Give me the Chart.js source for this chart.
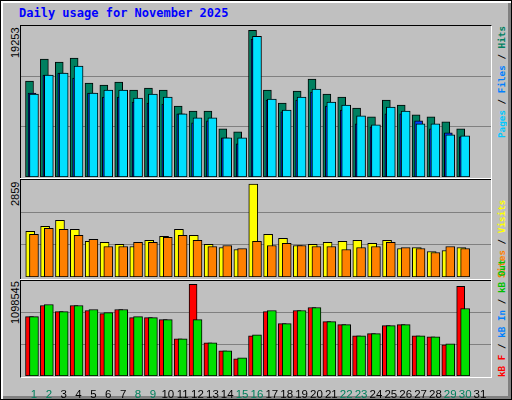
<!DOCTYPE html>
<html><head><meta charset="utf-8">
<script src="https://cdn.jsdelivr.net/npm/chart.js@4"></script>
<style>
html,body{margin:0;padding:0;width:512px;height:400px;overflow:hidden;background:#c0c0c0}
#outer{position:absolute;left:0;top:0;width:510px;height:398px;border:1px solid #000;box-shadow:inset 2px 2px 0 #fff,inset -3px -3px 0 #808080;background:#c0c0c0}
.t{position:absolute;font-family:"DejaVu Sans Mono",monospace;font-weight:bold;font-size:12px;color:#0000ff}
.v{position:absolute;writing-mode:vertical-rl;transform:rotate(180deg);white-space:nowrap;font-family:"Liberation Sans",sans-serif;font-size:11px}
.lg{font-family:"DejaVu Sans Mono",monospace;font-size:9.3px;font-weight:bold}
canvas{position:absolute}
.line{position:absolute;height:1px}
</style></head><body>
<div id="outer"></div>
<div class="t" style="left:19px;top:6px">Daily usage for November 2025</div>
<div id="frame" style="position:absolute;left:20px;top:25px;width:470px;height:351px;border-left:1px solid #000;border-top:1px solid #000;border-right:1px solid #fff;border-bottom:1px solid #fff"></div>
<div class="line" style="left:20px;top:178px;width:471px;background:#fff"></div>
<div class="line" style="left:20px;top:179px;width:471px;background:#000"></div>
<div class="line" style="left:20px;top:279px;width:471px;background:#fff"></div>
<div class="line" style="left:20px;top:280px;width:471px;background:#000"></div>
<div class="v" style="left:9px;top:27px;height:31px">19253</div>
<div class="v" style="left:9px;top:181px;height:25px">2859</div>
<div class="v" style="left:9px;top:284px;height:40px">1098545</div>
<div class="v lg" style="left:496px;top:27px;height:111px"><span style="color:#00c8ff">Pages</span> / <span style="color:#0080ff">Files</span> / <span style="color:#008060">Hits</span></div>
<div class="v lg" style="left:496px;top:178px;height:100px"><span style="color:#ff8000">Sites</span> / <span style="color:#ffff00">Visits</span></div>
<div class="v lg" style="left:496px;top:283px;height:94px"><span style="color:#ff0000">kB F</span> / <span style="color:#0080ff">kB In</span> / <span style="color:#00c000">kB Out</span></div>
<canvas id="c1" style="left:21px;top:26px;width:470px;height:151px"></canvas>
<canvas id="c2" style="left:21px;top:180px;width:470px;height:97px"></canvas>
<canvas id="c3" style="left:21px;top:281px;width:470px;height:117px"></canvas>
<script>
const days=[1,2,3,4,5,6,7,8,9,10,11,12,13,14,15,16,17,18,19,20,21,22,23,24,25,26,27,28,29,30,31];
const weekend=[1,2,8,9,15,16,22,23,29,30];
const hits=[12589,15464,15072,15594,12327,12066,12458,11413,11674,11413,9322,8668,8668,6316,5924,19253,11413,9714,11282,12850,10890,10498,9060,7884,10106,9453,8146,7884,7231,6316,0];
const files=[11021,13373,13634,12981,11021,10498,10498,9845,9714,9583,8276,7100,7362,5140,4356,18077,10106,8538,10106,11151,9322,8799,6970,6578,8276,8276,7362,6316,5793,5271,0];
const pages=[10890,13373,13634,14549,11021,11413,11413,10367,10890,10498,8276,7754,7754,5140,5140,18469,10237,8799,10498,11543,9845,9453,8015,6839,9191,8668,6970,6970,5532,5401,0];
const visits=[1404,1558,1744,1465,1094,1063,1001,939,1125,1249,1465,1280,1001,908,846,2859,1311,1187,970,1001,1063,1094,1125,1032,1125,877,908,784,815,908,0];
const sites=[1311,1496,1465,1280,1156,939,939,1063,1063,1218,1280,1125,939,970,877,1094,970,1032,970,939,939,846,908,939,1063,908,877,753,939,877,0];
const kbF=[712248,845040,772608,845040,784680,748464,796752,700176,700176,676032,446664,1098545,398376,301800,205224,482880,772608,627744,784680,820896,651888,615672,482880,507024,603600,615672,482880,470808,374232,1074408,0];
const kbIn=[3000,3000,3000,3000,3000,3000,3000,3000,3000,3000,3000,3000,3000,3000,3000,3000,3000,3000,3000,3000,3000,3000,3000,3000,3000,3000,3000,3000,3000,3000,0];
const kbOut=[712248,857112,772608,845040,796752,760536,796752,712248,700176,676032,446664,676032,398376,301800,217296,494952,784680,627744,784680,820896,651888,615672,482880,507024,603600,615672,482880,470808,386304,808824,0];
const maxes=[19820,2983,1138800];

function ds(vals,off,color,w,order){
  return {data:days.map((d,i)=>({x:d+off,y:vals[i]})),backgroundColor:color,borderColor:'#000',borderWidth:1,borderSkipped:false,barThickness:w,grouped:false,order:order};
}
function mk(id,datasets,max,showX){
  new Chart(document.getElementById(id),{type:'bar',data:{datasets},
    options:{responsive:false,animation:false,devicePixelRatio:1,
      layout:{padding:0},
      plugins:{legend:{display:false},tooltip:{enabled:false}},
      scales:{
        x:{type:'linear',min:0.128,max:31.74,display:showX,offset:false,
          grid:{display:false,offset:false},border:{display:false},
          afterBuildTicks:s=>{s.ticks=days.map(d=>({value:d}));},
          afterFit:s=>{if(showX)s.height=22;},
          ticks:{autoSkip:false,maxRotation:0,padding:4,
            font:{family:'Liberation Sans',size:11.5},
            color:c=>weekend.includes(c.tick.value)?'#00805c':'#000',
            callback:v=>String(v)}},
        y:{min:0,max:max,
          afterBuildTicks:s=>{s.ticks=[{value:max/3},{value:2*max/3}];},
          afterFit:s=>{s.width=0;},
          ticks:{display:false},
          grid:{color:'#808080',lineWidth:1,drawTicks:false},
          border:{display:false}}
      }}});
}
function size(id,w,h){const c=document.getElementById(id);c.width=w;c.height=h;}
size('c1',470,151);size('c2',470,97);size('c3',470,117);
mk('c1',[ds(hits,-0.3,'#008060',8,3),ds(files,-0.13,'#0040ff',8,2),ds(pages,0,'#00e0ff',9,1)],maxes[0],false);
mk('c2',[ds(visits,-0.25,'#ffff00',9,2),ds(sites,0,'#ff8000',9,1)],maxes[1],false);
mk('c3',[ds(kbF,-0.3,'#ff0000',8,3),ds(kbIn,-0.15,'#0080ff',8,2),ds(kbOut,0,'#00e000',9,1)],maxes[2],true);
</script>
</body></html>
